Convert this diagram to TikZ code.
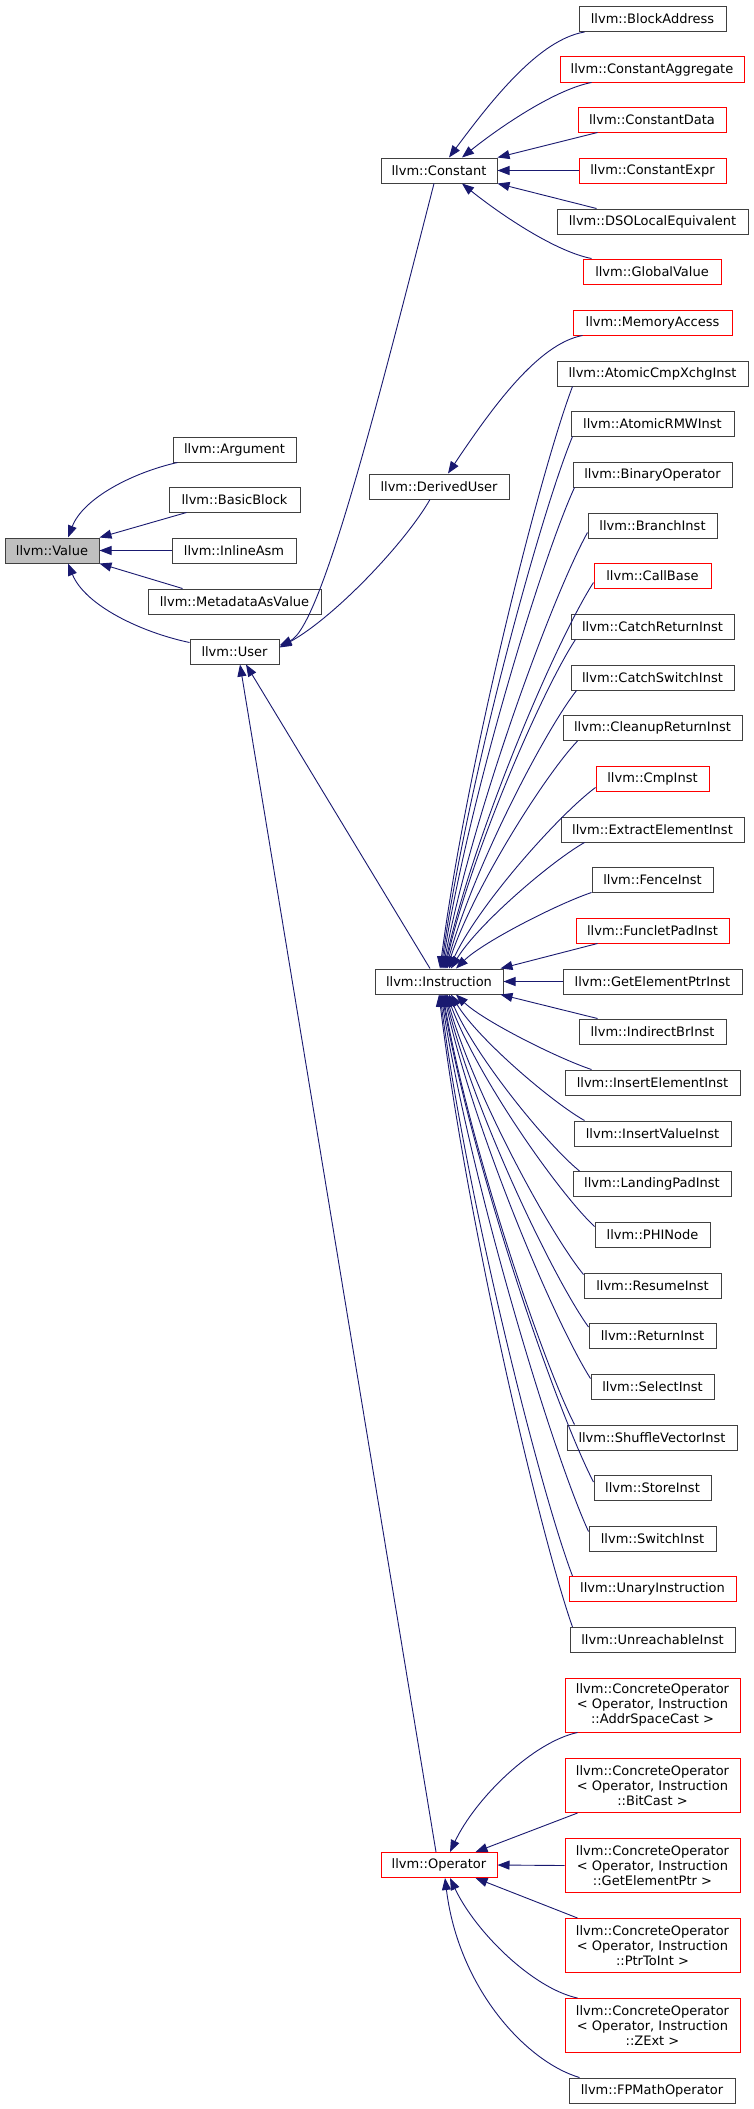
\documentclass[tikz,border=0pt]{standalone}
\usepackage{fontspec}
\newfontfamily\dvs{DejaVu Sans}
\usetikzlibrary{arrows.meta,calc}
\definecolor{mblue}{HTML}{191970}
\definecolor{bgray}{HTML}{404040}
\definecolor{vgray}{HTML}{BFBFBF}
\definecolor{bred}{HTML}{FF0000}
\tikzset{
  cls/.style={draw=bgray, fill=white, line width=1pt, inner sep=0pt, minimum height=25pt,
    font=\dvs\fontsize{13}{15}\selectfont, text=black, align=center},
  redc/.style={cls, draw=bred},
  w/.style={minimum width=#1pt},
  e/.style={draw=mblue, line width=0.9pt, -{Triangle[length=12pt,width=9pt]}},
  bz/.style n args={4}{to path={let \p1=(\tikztostart), \p2=(\tikztotarget) in
     .. controls ({\x1+#1*(\x2-\x1)},{\y1+#2*(\y2-\y1)}) and ({\x2-#3*(\x2-\x1)},{\y2-#4*(\y2-\y1)}) .. (\tikztotarget)}},
  ci/.style={bz={0.25}{0.15}{0.2}{0.35}}
}
\begin{document}
\begin{tikzpicture}[x=1pt,y=1pt]
\useasboundingbox[fill=white] (0,0) rectangle (753,-2109);
% left part
\node[cls,w=94,fill=vgray,draw=bgray] (val) at (52,-550.5) {llvm::Value};
\node[cls,w=123] (arg) at (234.5,-449.5) {llvm::Argument};
\node[cls,w=131] (bb) at (234.5,-499.5) {llvm::BasicBlock};
\node[cls,w=124] (ia) at (234,-550.5) {llvm::InlineAsm};
\node[cls,w=173] (mav) at (234.5,-601.5) {llvm::MetadataAsValue};
\node[cls,w=89] (user) at (234.5,-651.5) {llvm::User};
\node[cls,w=116] (con) at (439,-170.5) {llvm::Constant};
\node[cls,w=140] (du) at (439,-486.5) {llvm::DerivedUser};
\node[cls,w=128] (ins) at (439,-981.5) {llvm::Instruction};
\node[redc,w=116] (op) at (439,-1865) {llvm::Operator};
% right column
\node[cls,w=147] (ba) at (652.5,-19) {llvm::BlockAddress};
\node[redc,w=184] (ca) at (652,-69.5) {llvm::ConstantAggregate};
\node[redc,w=148] (cd) at (652,-119.5) {llvm::ConstantData};
\node[redc,w=147] (ce) at (652.5,-170.5) {llvm::ConstantExpr};
\node[cls,w=191] (dso) at (652.5,-221.5) {llvm::DSOLocalEquivalent};
\node[redc,w=138] (gv) at (652,-271.5) {llvm::GlobalValue};
\node[redc,w=159] (ma) at (652.5,-322.5) {llvm::MemoryAccess};
\node[cls,w=191] (acx) at (652.5,-373.5) {llvm::AtomicCmpXchgInst};
\node[cls,w=163] (arm) at (652.5,-423.5) {llvm::AtomicRMWInst};
\node[cls,w=159] (bo) at (652.5,-474.5) {llvm::BinaryOperator};
\node[cls,w=129] (br) at (652.5,-525.5) {llvm::BranchInst};
\node[redc,w=117] (cb) at (652.5,-575.5) {llvm::CallBase};
\node[cls,w=163] (cr) at (652.5,-626.5) {llvm::CatchReturnInst};
\node[cls,w=163] (cs) at (652.5,-677.5) {llvm::CatchSwitchInst};
\node[cls,w=179] (clr) at (652.5,-728) {llvm::CleanupReturnInst};
\node[redc,w=113] (cmp) at (652.5,-778.5) {llvm::CmpInst};
\node[cls,w=183] (ee) at (652.5,-829.5) {llvm::ExtractElementInst};
\node[cls,w=121] (fi) at (652.5,-879.5) {llvm::FenceInst};
\node[redc,w=153] (fp) at (652.5,-930.5) {llvm::FuncletPadInst};
\node[cls,w=179] (gep) at (652.5,-981.5) {llvm::GetElementPtrInst};
\node[cls,w=147] (ib) at (652.5,-1031.5) {llvm::IndirectBrInst};
\node[cls,w=175] (ie) at (652.5,-1082.5) {llvm::InsertElementInst};
\node[cls,w=157] (iv) at (652.5,-1133.5) {llvm::InsertValueInst};
\node[cls,w=158] (lp) at (652,-1184) {llvm::LandingPadInst};
\node[cls,w=115] (phi) at (652.5,-1234.5) {llvm::PHINode};
\node[cls,w=137] (res) at (652.5,-1285.5) {llvm::ResumeInst};
\node[cls,w=127] (ret) at (652.5,-1336) {llvm::ReturnInst};
\node[cls,w=123] (sel) at (652.5,-1386.5) {llvm::SelectInst};
\node[cls,w=170] (sv) at (652,-1437.5) {llvm::ShuffleVectorInst};
\node[cls,w=117] (st) at (652.5,-1488) {llvm::StoreInst};
\node[cls,w=127] (sw) at (652.5,-1538.5) {llvm::SwitchInst};
\node[redc,w=167] (ui) at (652.5,-1589) {llvm::UnaryInstruction};
\node[cls,w=165] (ur) at (652.5,-1640) {llvm::UnreachableInst};
\node[redc,w=175,minimum height=54pt] (co1) at (652.5,-1705) {llvm::ConcreteOperator\\< Operator, Instruction\\::AddrSpaceCast >};
\node[redc,w=175,minimum height=54pt] (co2) at (652.5,-1785.5) {llvm::ConcreteOperator\\< Operator, Instruction\\::BitCast >};
\node[redc,w=175,minimum height=54pt] (co3) at (652.5,-1865.5) {llvm::ConcreteOperator\\< Operator, Instruction\\::GetElementPtr >};
\node[redc,w=175,minimum height=54pt] (co4) at (652.5,-1945.5) {llvm::ConcreteOperator\\< Operator, Instruction\\::PtrToInt >};
\node[redc,w=175,minimum height=54pt] (co5) at (652.5,-2025.5) {llvm::ConcreteOperator\\< Operator, Instruction\\::ZExt >};
\node[cls,w=166] (fpm) at (652,-2090.5) {llvm::FPMathOperator};
% Value edges
\draw[e] ([xshift=5pt]arg.south west) to[bz={0.4}{0.13}{0.14}{0.53}] ([xshift=16pt]val.north);
\draw[e] ([xshift=18pt]bb.south west) -- (val.north east);
\draw[e] (ia.west) -- (val.east);
\draw[e] ([xshift=35pt]mav.north west) -- (val.south east);
\draw[e] ([yshift=-4pt]user.north west) to[bz={0.4}{0.13}{0.14}{0.53}] ([xshift=16pt]val.south);
% Constant edges
\draw[e] ([xshift=6pt]ba.south west) to[bz={0.33}{0.06}{0.33}{0.48}] ([xshift=10pt]con.north);
\draw[e] ([xshift=32pt]ca.south west) to[bz={0.3}{0.1}{0.25}{0.35}] ([xshift=23pt]con.north);
\draw[e] ([xshift=20pt]cd.south west) -- (con.north east);
\draw[e] (ce.west) -- (con.east);
\draw[e] ([xshift=40pt]dso.north west) -- (con.south east);
\draw[e] ([xshift=9pt]gv.north west) to[bz={0.3}{0.1}{0.25}{0.35}] ([xshift=23pt]con.south);
% DerivedUser
\draw[e] ([xshift=10pt]ma.south west) to[bz={0.33}{0.06}{0.33}{0.48}] ([xshift=9pt]du.north);
% User edges
\draw[e] ([xshift=-9pt]du.south) to[bz={0.17}{0.3}{0.36}{0.2}] ([yshift=4pt]user.east);
\draw[e] ([xshift=-5pt]con.south) to[bz={0.36}{0.47}{0.27}{0.04}] ([yshift=6pt]user.east);
\draw[e] ([xshift=-9pt]ins.north) -- ([xshift=11.5pt]user.south);
\draw[e] ([xshift=-3pt]op.north) -- ([xshift=5.5pt]user.south);
% Instruction upper
\draw[e] ([xshift=16pt]acx.south west) to[ci] ([xshift=1pt]ins.north);
\draw[e] ([xshift=2pt]arm.south west) to[ci] ([xshift=2pt]ins.north);
\draw[e] ([xshift=2pt]bo.south west) to[ci] ([xshift=3pt]ins.north);
\draw[e] ([yshift=6pt]br.south west) to[ci] ([xshift=4pt]ins.north);
\draw[e] ([yshift=6pt]cb.south west) to[ci] ([xshift=5pt]ins.north);
\draw[e] ([xshift=5pt]cr.south west) to[ci] ([xshift=6pt]ins.north);
\draw[e] ([xshift=6pt]cs.south west) to[ci] ([xshift=7pt]ins.north);
\draw[e] ([xshift=15pt]clr.south west) to[ci] ([xshift=8pt]ins.north);
\draw[e] ([yshift=4pt]cmp.south west) to[ci] ([xshift=10pt]ins.north);
\draw[e] ([xshift=24pt]ee.south west) to[ci] ([xshift=12pt]ins.north);
\draw[e] (fi.south west) to[ci] ([xshift=17pt]ins.north);
\draw[e] ([xshift=22pt]fp.south west) -- ([xshift=-3pt]ins.north east);
\draw[e] (gep.west) -- (ins.east);
% Instruction lower
\draw[e] ([xshift=19pt]ib.north west) -- ([xshift=-3pt]ins.south east);
\draw[e] ([xshift=27pt]ie.north west) to[ci] ([xshift=17pt]ins.south);
\draw[e] ([xshift=11pt]iv.north west) to[ci] ([xshift=12pt]ins.south);
\draw[e] ([xshift=7pt]lp.north west) to[ci] ([xshift=10pt]ins.south);
\draw[e] ([yshift=-5pt]phi.north west) to[ci] ([xshift=8pt]ins.south);
\draw[e] ([yshift=-2pt]res.north west) to[ci] ([xshift=7pt]ins.south);
\draw[e] ([yshift=-4pt]ret.north west) to[ci] ([xshift=6pt]ins.south);
\draw[e] ([yshift=-5pt]sel.north west) to[ci] ([xshift=5pt]ins.south);
\draw[e] ([xshift=8pt]sv.north west) to[ci] ([xshift=4pt]ins.south);
\draw[e] ([yshift=-7pt]st.north west) to[ci] ([xshift=3pt]ins.south);
\draw[e] ([yshift=-6pt]sw.north west) to[ci] ([xshift=2pt]ins.south);
\draw[e] ([xshift=4pt]ui.north west) to[ci] ([xshift=1pt]ins.south);
\draw[e] ([xshift=3pt]ur.north west) to[ci] ([xshift=0pt]ins.south);
% Operator edges
\draw[e] ([xshift=13pt]co1.south west) to[bz={0.35}{0.08}{0.2}{0.45}] ([xshift=11pt]op.north);
\draw[e] ([xshift=13pt]co2.south west) -- ([xshift=-22pt]op.north east);
\draw[e] (co3.west) -- (op.east);
\draw[e] ([xshift=13pt]co4.north west) -- ([xshift=-22pt]op.south east);
\draw[e] ([xshift=13pt]co5.north west) to[bz={0.35}{0.08}{0.2}{0.45}] ([xshift=11pt]op.south);
\draw[e] ([xshift=11pt]fpm.north west) to[bz={0.4}{0.08}{0.1}{0.55}] ([xshift=6pt]op.south);
\end{tikzpicture}
\end{document}
